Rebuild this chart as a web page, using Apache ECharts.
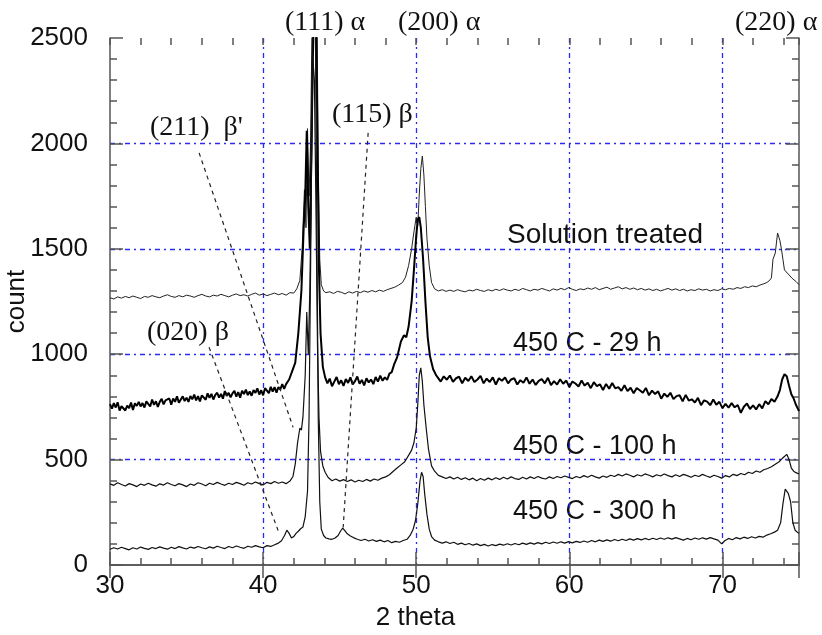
<!DOCTYPE html>
<html>
<head>
<meta charset="utf-8">
<script src="https://cdn.jsdelivr.net/npm/echarts@6/dist/echarts.min.js"></script>
<style>html,body{margin:0;padding:0;background:#fff;}#c{width:822px;height:635px;}</style>
</head>
<body>
<div id="c"></div>
<script>
// ---- axis ticks ----
const xMajorTicks = [30, 40, 50, 60, 70];
const yTicks = [0, 500, 1000, 1500, 2000, 2500];

// ---- series (2 theta, count) ----
const solutionTreated = [[30,1268],[30.25,1262],[30.5,1272],[30.75,1266],[31,1274],[31.25,1268],[31.5,1276],[31.75,1270],[32,1264],[32.25,1274],[32.5,1270],[32.75,1278],[33,1272],[33.25,1268],[33.5,1276],[33.75,1282],[34,1274],[34.25,1270],[34.5,1278],[34.75,1272],[35,1280],[35.25,1276],[35.5,1270],[35.75,1278],[36,1284],[36.25,1276],[36.5,1272],[36.75,1280],[37,1276],[37.25,1284],[37.5,1278],[37.75,1272],[38,1280],[38.25,1286],[38.5,1278],[38.75,1282],[39,1276],[39.25,1284],[39.5,1290],[39.75,1280],[40,1286],[40.25,1278],[40.5,1284],[40.75,1290],[41,1282],[41.25,1288],[41.5,1280],[41.75,1292],[42,1290],[42.2,1310],[42.4,1350],[42.55,1500],[42.7,1780],[42.8,1600],[42.9,2070],[43,1750],[43.1,2000],[43.2,2600],[43.3,3200],[43.4,3300],[43.5,2800],[43.6,1900],[43.7,1450],[43.8,1330],[43.95,1300],[44.1,1292],[44.35,1296],[44.6,1288],[44.85,1298],[45.1,1294],[45.35,1286],[45.6,1296],[45.85,1290],[46.1,1298],[46.35,1292],[46.6,1300],[46.85,1294],[47.1,1302],[47.35,1296],[47.6,1304],[47.85,1298],[48.1,1306],[48.35,1312],[48.6,1318],[48.85,1328],[49.1,1340],[49.3,1365],[49.5,1420],[49.7,1500],[49.85,1580],[50,1650],[50.1,1610],[50.2,1760],[50.3,1880],[50.4,1940],[50.5,1850],[50.6,1700],[50.7,1550],[50.85,1420],[51,1340],[51.2,1310],[51.45,1300],[51.7,1306],[51.95,1298],[52.2,1304],[52.45,1298],[52.7,1306],[52.95,1300],[53.2,1296],[53.45,1304],[53.7,1300],[53.95,1308],[54.2,1302],[54.45,1298],[54.7,1306],[54.95,1300],[55.2,1308],[55.45,1302],[55.7,1310],[55.95,1304],[56.2,1300],[56.45,1308],[56.7,1302],[56.95,1312],[57.2,1306],[57.45,1300],[57.7,1308],[57.95,1304],[58.2,1312],[58.45,1306],[58.7,1300],[58.95,1310],[59.2,1304],[59.45,1312],[59.7,1306],[59.95,1316],[60.2,1308],[60.45,1302],[60.7,1310],[60.95,1306],[61.2,1314],[61.45,1308],[61.7,1316],[61.95,1306],[62.2,1312],[62.45,1318],[62.7,1308],[62.95,1314],[63.2,1320],[63.45,1310],[63.7,1316],[63.95,1308],[64.2,1314],[64.45,1306],[64.7,1312],[64.95,1304],[65.2,1310],[65.45,1302],[65.7,1308],[65.95,1300],[66.2,1306],[66.45,1312],[66.7,1304],[66.95,1310],[67.2,1302],[67.45,1308],[67.7,1300],[67.95,1306],[68.2,1302],[68.45,1310],[68.7,1304],[68.95,1308],[69.2,1300],[69.45,1306],[69.7,1302],[69.95,1310],[70.2,1306],[70.45,1312],[70.7,1308],[70.95,1316],[71.2,1312],[71.45,1320],[71.7,1316],[71.95,1324],[72.2,1320],[72.45,1328],[72.7,1334],[72.9,1340],[73.05,1348],[73.2,1362],[73.3,1450],[73.45,1480],[73.6,1575],[73.75,1540],[73.85,1500],[73.95,1450],[74.05,1400],[74.3,1380],[74.55,1360],[74.8,1345],[75,1330]];

const h29 = [[30,763],[30.125,742],[30.25,768],[30.375,747],[30.5,772],[30.625,733],[30.75,753],[30.875,761],[31,733],[31.125,756],[31.25,744],[31.375,771],[31.5,735],[31.625,767],[31.75,755],[31.875,774],[32,752],[32.125,768],[32.25,747],[32.375,776],[32.5,767],[32.625,752],[32.75,785],[32.875,760],[33,777],[33.125,750],[33.25,774],[33.375,788],[33.5,762],[33.625,781],[33.75,773],[33.875,790],[34,761],[34.125,790],[34.25,774],[34.375,800],[34.5,770],[34.625,785],[34.75,800],[34.875,778],[35,794],[35.125,774],[35.25,802],[35.375,786],[35.5,808],[35.625,781],[35.75,801],[35.875,776],[36,805],[36.125,799],[36.25,784],[36.375,814],[36.5,793],[36.625,812],[36.75,785],[36.875,807],[37,817],[37.125,794],[37.25,812],[37.375,789],[37.5,825],[37.625,802],[37.75,817],[37.875,795],[38,814],[38.125,826],[38.25,799],[38.375,820],[38.5,794],[38.625,827],[38.75,811],[38.875,832],[39,806],[39.125,823],[39.25,803],[39.375,830],[39.5,816],[39.625,838],[39.75,809],[39.875,829],[40,805],[40.125,839],[40.25,827],[40.375,815],[40.5,845],[40.625,823],[40.75,844],[40.875,818],[41,844],[41.125,833],[41.25,858],[41.375,836],[41.5,858],[41.7,880],[41.9,920],[42.1,960],[42.3,1100],[42.5,1300],[42.65,1600],[42.75,1750],[42.85,2060],[42.95,1700],[43.05,1500],[43.15,1950],[43.25,2400],[43.35,2800],[43.45,2700],[43.55,2000],[43.65,1400],[43.75,1100],[43.9,940],[44.05,890],[44.2,862],[44.35,884],[44.5,848],[44.65,870],[44.8,892],[44.95,858],[45.1,876],[45.25,850],[45.4,882],[45.55,864],[45.7,890],[45.85,856],[46,872],[46.15,894],[46.3,860],[46.45,878],[46.6,852],[46.75,886],[46.9,866],[47.05,880],[47.2,858],[47.35,892],[47.5,870],[47.65,898],[47.8,874],[47.95,890],[48.1,878],[48.25,908],[48.4,915],[48.55,950],[48.75,985],[49,1060],[49.2,1090],[49.35,1080],[49.5,1130],[49.7,1250],[49.85,1400],[50,1560],[50.1,1640],[50.2,1650],[50.3,1600],[50.45,1450],[50.6,1250],[50.75,1080],[50.9,990],[51.1,930],[51.3,900],[51.45,885],[51.6,870],[51.8,895],[52,879],[52.2,899],[52.4,869],[52.6,886],[52.8,893],[53,862],[53.2,888],[53.4,873],[53.6,895],[53.8,868],[54,880],[54.2,897],[54.4,862],[54.6,884],[54.8,868],[55,890],[55.2,856],[55.4,886],[55.6,874],[55.8,890],[56,862],[56.2,880],[56.4,886],[56.6,856],[56.8,877],[57,864],[57.2,890],[57.4,860],[57.6,880],[57.8,854],[58,873],[58.2,882],[58.4,862],[58.6,888],[58.8,853],[59,872],[59.2,856],[59.4,881],[59.6,860],[59.8,875],[60,844],[60.2,870],[60.4,861],[60.6,847],[60.8,875],[61,851],[61.2,865],[61.4,839],[61.6,867],[61.8,849],[62,857],[62.2,830],[62.4,859],[62.6,836],[62.8,863],[63,838],[63.2,844],[63.4,826],[63.6,853],[63.8,825],[64,841],[64.2,815],[64.4,839],[64.6,829],[64.8,817],[65,840],[65.2,805],[65.4,827],[65.6,811],[65.8,824],[66,789],[66.2,813],[66.4,798],[66.6,817],[66.8,787],[67,801],[67.2,805],[67.4,777],[67.6,807],[67.8,780],[68,786],[68.2,771],[68.4,793],[68.6,758],[68.8,781],[69,775],[69.2,758],[69.4,785],[69.6,760],[69.8,774],[70,744],[70.2,764],[70.4,746],[70.6,768],[70.8,748],[71,759],[71.2,722],[71.4,751],[71.6,766],[71.8,740],[72,757],[72.2,738],[72.4,763],[72.6,743],[72.8,777],[73,763],[73.2,787],[73.4,774],[73.6,800],[73.75,830],[73.9,880],[74.05,905],[74.2,895],[74.35,850],[74.5,810],[74.65,790],[74.8,760],[75,730]];

const h100 = [[30,385],[30.25,378],[30.5,390],[30.75,382],[31,375],[31.25,386],[31.5,380],[31.75,372],[32,384],[32.25,378],[32.5,388],[32.75,380],[33,374],[33.25,385],[33.5,379],[33.75,390],[34,382],[34.25,376],[34.5,386],[34.75,380],[35,372],[35.25,384],[35.5,378],[35.75,390],[36,384],[36.25,376],[36.5,388],[36.75,382],[37,392],[37.25,384],[37.5,378],[37.75,388],[38,382],[38.25,392],[38.5,386],[38.75,378],[39,390],[39.25,384],[39.5,394],[39.75,386],[40,380],[40.25,392],[40.5,386],[40.75,396],[41,388],[41.25,394],[41.5,386],[41.75,398],[41.95,420],[42.1,480],[42.25,580],[42.4,650],[42.5,640],[42.6,700],[42.75,900],[42.85,1200],[42.95,1000],[43.05,1300],[43.15,1800],[43.25,2400],[43.35,2300],[43.45,1700],[43.55,1050],[43.65,700],[43.75,540],[43.9,470],[44.05,440],[44.25,415],[44.5,400],[44.75,408],[45,398],[45.25,405],[45.5,396],[45.75,404],[46,394],[46.25,402],[46.5,396],[46.75,406],[47,398],[47.25,408],[47.5,402],[47.75,412],[48,418],[48.25,428],[48.5,445],[48.75,460],[49,475],[49.25,490],[49.5,520],[49.7,545],[49.85,580],[50,650],[50.1,760],[50.2,900],[50.3,935],[50.4,870],[50.5,760],[50.65,650],[50.8,550],[51,470],[51.2,445],[51.45,425],[51.7,418],[51.95,410],[52.2,418],[52.45,408],[52.7,416],[52.95,406],[53.2,414],[53.45,404],[53.7,412],[53.95,400],[54.2,410],[54.45,402],[54.7,412],[54.95,404],[55.2,414],[55.45,406],[55.7,416],[55.95,408],[56.2,418],[56.45,410],[56.7,406],[56.95,416],[57.2,408],[57.45,418],[57.7,410],[57.95,420],[58.2,412],[58.45,408],[58.7,418],[58.95,410],[59.2,420],[59.45,414],[59.7,422],[59.95,416],[60.2,410],[60.45,420],[60.7,414],[60.95,424],[61.2,416],[61.45,426],[61.7,418],[61.95,412],[62.2,422],[62.45,416],[62.7,426],[62.95,420],[63.2,430],[63.45,422],[63.7,432],[63.95,426],[64.2,418],[64.45,428],[64.7,422],[64.95,432],[65.2,426],[65.45,418],[65.7,428],[65.95,422],[66.2,432],[66.45,424],[66.7,418],[66.95,428],[67.2,420],[67.45,430],[67.7,424],[67.95,416],[68.2,426],[68.45,420],[68.7,430],[68.95,422],[69.2,416],[69.45,426],[69.7,420],[69.95,412],[70.2,424],[70.45,418],[70.7,430],[70.95,424],[71.2,434],[71.45,428],[71.7,440],[71.95,434],[72.2,446],[72.45,440],[72.7,452],[72.95,458],[73.2,466],[73.45,478],[73.7,490],[73.9,505],[74.05,515],[74.2,525],[74.35,500],[74.5,460],[74.65,445],[74.8,438],[75,432]];

const h300 = [[30,75],[30.25,82],[30.5,76],[30.75,84],[31,78],[31.25,72],[31.5,82],[31.75,76],[32,85],[32.25,79],[32.5,74],[32.75,83],[33,78],[33.25,86],[33.5,80],[33.75,75],[34,84],[34.25,78],[34.5,87],[34.75,81],[35,76],[35.25,85],[35.5,80],[35.75,88],[36,82],[36.25,77],[36.5,86],[36.75,80],[37,89],[37.25,83],[37.5,78],[37.75,88],[38,82],[38.25,90],[38.5,84],[38.75,79],[39,89],[39.25,84],[39.5,92],[39.75,86],[40,82],[40.25,92],[40.5,88],[40.75,96],[41,104],[41.2,115],[41.4,140],[41.55,165],[41.7,150],[41.85,128],[42,135],[42.15,150],[42.3,160],[42.45,172],[42.6,180],[42.75,230],[42.9,350],[43,700],[43.1,1400],[43.2,2300],[43.3,2900],[43.4,2700],[43.5,1700],[43.6,700],[43.7,300],[43.8,170],[43.95,140],[44.1,128],[44.3,124],[44.5,122],[44.7,128],[44.9,140],[45.05,160],[45.2,175],[45.35,162],[45.5,148],[45.7,138],[45.9,130],[46.15,122],[46.4,116],[46.65,122],[46.9,114],[47.15,120],[47.4,112],[47.65,118],[47.9,110],[48.15,116],[48.4,106],[48.65,112],[48.9,108],[49.15,116],[49.4,122],[49.6,140],[49.8,170],[49.95,210],[50.1,290],[50.25,400],[50.35,440],[50.45,420],[50.55,340],[50.7,240],[50.85,170],[51,135],[51.2,118],[51.45,110],[51.7,104],[51.95,110],[52.2,102],[52.45,108],[52.7,98],[52.95,104],[53.2,96],[53.45,102],[53.7,94],[53.95,100],[54.2,92],[54.45,98],[54.7,90],[54.95,97],[55.2,92],[55.45,99],[55.7,94],[55.95,101],[56.2,95],[56.45,102],[56.7,96],[56.95,104],[57.2,98],[57.45,105],[57.7,99],[57.95,106],[58.2,100],[58.45,108],[58.7,102],[58.95,109],[59.2,103],[59.45,110],[59.7,104],[59.95,111],[60.2,105],[60.45,112],[60.7,107],[60.95,114],[61.2,108],[61.45,116],[61.7,110],[61.95,118],[62.2,112],[62.45,119],[62.7,113],[62.95,121],[63.2,115],[63.45,122],[63.7,116],[63.95,124],[64.2,118],[64.45,125],[64.7,119],[64.95,126],[65.2,120],[65.45,127],[65.7,121],[65.95,128],[66.2,122],[66.45,129],[66.7,123],[66.95,130],[67.2,124],[67.45,118],[67.7,126],[67.95,120],[68.2,128],[68.45,122],[68.7,129],[68.95,123],[69.2,130],[69.45,124],[69.7,118],[69.95,100],[70.15,115],[70.4,126],[70.65,120],[70.9,130],[71.15,124],[71.4,132],[71.65,126],[71.9,134],[72.15,128],[72.4,136],[72.65,132],[72.9,142],[73.15,148],[73.4,156],[73.6,165],[73.8,200],[73.95,290],[74.1,360],[74.2,368],[74.3,340],[74.45,300],[74.6,200],[74.75,165],[74.9,155],[75,150]];

// ---- leader (dashed) lines for peak annotations, in data coords ----
const leader211 = [[35.82,1955],[41.96,653]];
const leader020 = [[36.47,1033],[40.98,164]];
const leader115 = [[46.86,2050],[45.23,178]];

// ---- annotation texts ----
const peakLabels = ['(111) α', '(200) α', '(220) α', "(211)  β'", '(115) β', '(020) β'];
const sampleLabels = ['Solution treated', '450 C - 29 h', '450 C - 100 h', '450 C - 300 h'];

const chart = echarts.init(document.getElementById('c'), null, {renderer: 'canvas'});
const SANS = 'Liberation Sans, Arial, sans-serif';
const SERIF = 'Liberation Serif, Times New Roman, serif';
const frame = {show: true, lineStyle: {color: '#555', width: 1.5}};
const blueGrid = {show: true, showMinLine: false, showMaxLine: false,
  lineStyle: {color: '#2a2af0', width: 1.3, type: [5, 4, 2, 4]}};

const xBase = {type: 'value', min: 30, max: 75, axisLine: frame};
const option = {
  animation: false,
  backgroundColor: '#fff',
  grid: {left: 110, right: 23, top: 38, bottom: 70, containLabel: false, outerBoundsMode: 'none'},
  xAxis: [
    Object.assign({}, xBase, {position: 'bottom', interval: 10,
      axisTick: {show: true, inside: true, length: 13, lineStyle: {color: '#555', width: 1.5}},
      axisLabel: {show: true, margin: 8, color: '#111', fontFamily: SANS, fontSize: 26,
        formatter: v => xMajorTicks.indexOf(v) >= 0 ? String(v) : ''},
      splitLine: blueGrid,
      name: '2 theta', nameLocation: 'middle', nameGap: 40, nameMoveOverlap: false,
      nameTextStyle: {color: '#111', fontFamily: SANS, fontSize: 26, padding: [0, 78, 0, 0]}}),
    Object.assign({}, xBase, {position: 'top', interval: 10,
      axisTick: {show: true, inside: true, length: 13, lineStyle: {color: '#555', width: 1.5}},
      axisLabel: {show: false}, splitLine: {show: false}}),
    Object.assign({}, xBase, {position: 'bottom', interval: 2, axisLine: {show: false},
      axisTick: {show: true, inside: true, length: 7, lineStyle: {color: '#555', width: 1.5}},
      axisLabel: {show: false}, splitLine: {show: false}}),
    Object.assign({}, xBase, {position: 'top', interval: 2, axisLine: {show: false},
      axisTick: {show: true, inside: true, length: 7, lineStyle: {color: '#555', width: 1.5}},
      axisLabel: {show: false}, splitLine: {show: false}})
  ],
  yAxis: [
    {type: 'value', position: 'left', min: yTicks[0], max: yTicks[yTicks.length - 1], interval: 500,
      axisLine: frame,
      axisTick: {show: true, inside: true, length: 13, lineStyle: {color: '#555', width: 1.5}},
      minorTick: {show: true, splitNumber: 5, length: 7, lineStyle: {color: '#555', width: 1.5}},
      axisLabel: {show: true, margin: 22, color: '#111', fontFamily: SANS, fontSize: 26,
        formatter: v => String(v)},
      splitLine: blueGrid,
      name: 'count', nameLocation: 'middle', nameGap: 80, nameRotate: 90, nameMoveOverlap: false,
      nameTextStyle: {color: '#111', fontFamily: SANS, fontSize: 26}},
    {type: 'value', position: 'right', min: yTicks[0], max: yTicks[yTicks.length - 1], interval: 500,
      axisLine: frame,
      axisTick: {show: true, inside: true, length: 13, lineStyle: {color: '#555', width: 1.5}},
      minorTick: {show: true, splitNumber: 5, length: 7, lineStyle: {color: '#555', width: 1.5}},
      axisLabel: {show: false}, splitLine: {show: false}}
  ],
  series: [
    {name: 'Solution treated', type: 'line', data: solutionTreated, showSymbol: false, clip: true,
      lineStyle: {color: '#222', width: 1}},
    {name: '450 C - 29 h', type: 'line', data: h29, showSymbol: false, clip: true,
      lineStyle: {color: '#000', width: 2}},
    {name: '450 C - 100 h', type: 'line', data: h100, showSymbol: false, clip: true,
      lineStyle: {color: '#111', width: 1.2}},
    {name: '450 C - 300 h', type: 'line', data: h300, showSymbol: false, clip: true,
      lineStyle: {color: '#111', width: 1.2}},
    {type: 'line', data: leader211, showSymbol: false, lineStyle: {color: '#222', width: 1.2, type: [4, 4]}},
    {type: 'line', data: leader020, showSymbol: false, lineStyle: {color: '#222', width: 1.2, type: [4, 4]}},
    {type: 'line', data: leader115, showSymbol: false, lineStyle: {color: '#222', width: 1.2, type: [4, 4]}}
  ],
  graphic: [
    {type: 'text', x: 285, y: 23, style: {text: peakLabels[0], font: '28px ' + SERIF, fill: '#111', verticalAlign: 'middle'}},
    {type: 'text', x: 398, y: 23, style: {text: peakLabels[1], font: '28px ' + SERIF, fill: '#111', verticalAlign: 'middle'}},
    {type: 'text', x: 735, y: 23, style: {text: peakLabels[2], font: '28px ' + SERIF, fill: '#111', verticalAlign: 'middle'}},
    {type: 'text', x: 150, y: 128, style: {text: peakLabels[3], font: '28px ' + SERIF, fill: '#111', verticalAlign: 'middle'}},
    {type: 'text', x: 332, y: 115, style: {text: peakLabels[4], font: '28px ' + SERIF, fill: '#111', verticalAlign: 'middle'}},
    {type: 'text', x: 147, y: 333, style: {text: peakLabels[5], font: '28px ' + SERIF, fill: '#111', verticalAlign: 'middle'}},
    {type: 'text', x: 507, y: 235, style: {text: sampleLabels[0], font: '28px ' + SANS, fill: '#111', verticalAlign: 'middle'}},
    {type: 'text', x: 513, y: 344, style: {text: sampleLabels[1], font: '27px ' + SANS, fill: '#111', verticalAlign: 'middle'}},
    {type: 'text', x: 513, y: 447, style: {text: sampleLabels[2], font: '27px ' + SANS, fill: '#111', verticalAlign: 'middle'}},
    {type: 'text', x: 513, y: 512, style: {text: sampleLabels[3], font: '27px ' + SANS, fill: '#111', verticalAlign: 'middle'}}
  ]
};
chart.setOption(option);
</script>
</body>
</html>
